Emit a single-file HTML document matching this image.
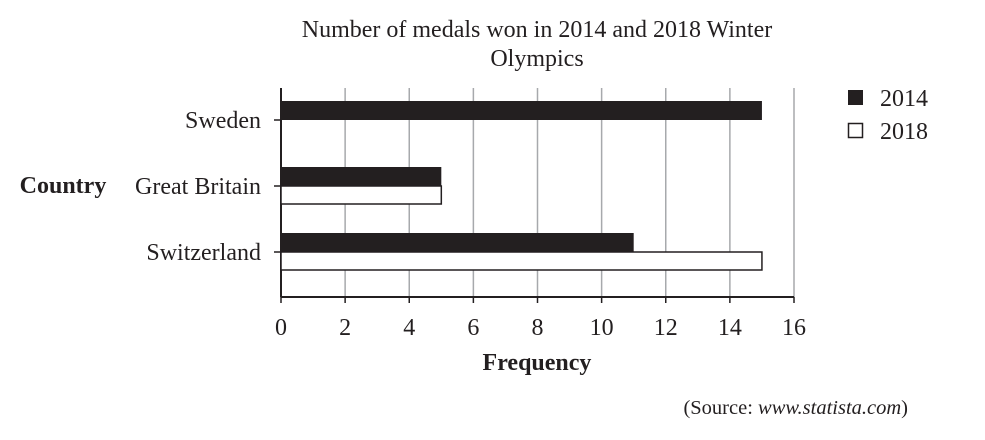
<!DOCTYPE html>
<html><head><meta charset="utf-8"><style>
body{margin:0;background:#fff;}
svg text{font-family:"Liberation Serif",serif;fill:#231f20;}
</style></head><body>
<svg width="985" height="435">
<text x="537" y="37" font-size="24" text-anchor="middle">Number of medals won in 2014 and 2018 Winter</text>
<text x="537" y="66" font-size="24" text-anchor="middle">Olympics</text>
<g id="plot"></g>
<text x="63" y="193" font-size="24" font-weight="bold" text-anchor="middle">Country</text>
<text x="537" y="370" font-size="24" font-weight="bold" text-anchor="middle">Frequency</text>
<rect x="848" y="90" width="15" height="15" fill="#231f20"/>
<text x="880" y="106" font-size="24">2014</text>
<rect x="848.5" y="123.5" width="14" height="14" fill="#fff" stroke="#231f20" stroke-width="1.5"/>
<text x="880" y="139" font-size="24">2018</text>
<text x="908" y="414" font-size="20.5" text-anchor="end">(Source: <tspan font-style="italic">www.statista.com</tspan>)</text>
</svg>
<script>
const categories=["Sweden","Great Britain","Switzerland"];
const values2014=[15,5,11];
const values2018=[0,5,15];
const ticks=[0,2,4,6,8,10,12,14,16];
const NS="http://www.w3.org/2000/svg";
const g=document.getElementById('plot');
const x0=281,x1=794,yTop=88,yBot=297;
const xs=v=>x0+(x1-x0)*v/16;
const yc=i=>120+i*66;
function mk(t,a){const e=document.createElementNS(NS,t);for(const k in a)e.setAttribute(k,a[k]);g.appendChild(e);return e;}
ticks.forEach(t=>{
 if(t>0){const l=mk('line',{x1:xs(t),x2:xs(t),y1:yTop,y2:yBot,stroke:'#a7a9ac','stroke-width':1.5});
 
 }
 const tk=mk('line',{x1:xs(t),x2:xs(t),y1:yBot,y2:yBot+6,stroke:'#231f20','stroke-width':1.5});
 
 
 const tx=mk('text',{x:xs(t),y:335,'font-size':24,'text-anchor':'middle'});tx.textContent=t;
 
 
});
const ax=mk('line',{x1:x0,x2:x0,y1:yTop,y2:yBot,stroke:'#231f20','stroke-width':2});


const bx=mk('line',{x1:x0,x2:x1,y1:yBot,y2:yBot,stroke:'#231f20','stroke-width':2});


categories.forEach((c,i)=>{
 const y=yc(i);
 const tk=mk('line',{x1:x0-7,x2:x0,y1:y,y2:y,stroke:'#231f20','stroke-width':1.5});
 
 
 const tx=mk('text',{x:261,y:y+8,'font-size':24,'text-anchor':'end'});tx.textContent=c;
 
 
 if(values2014[i]>0){const b=mk('rect',{x:x0,y:y-19,width:xs(values2014[i])-x0,height:19,fill:'#231f20'});
 
 }
 if(values2018[i]>0){const b=mk('rect',{x:x0,y:y,width:xs(values2018[i])-x0,height:18,fill:'#fff',stroke:'#231f20','stroke-width':1.5});
 
 }
});
</script>
</body></html>
